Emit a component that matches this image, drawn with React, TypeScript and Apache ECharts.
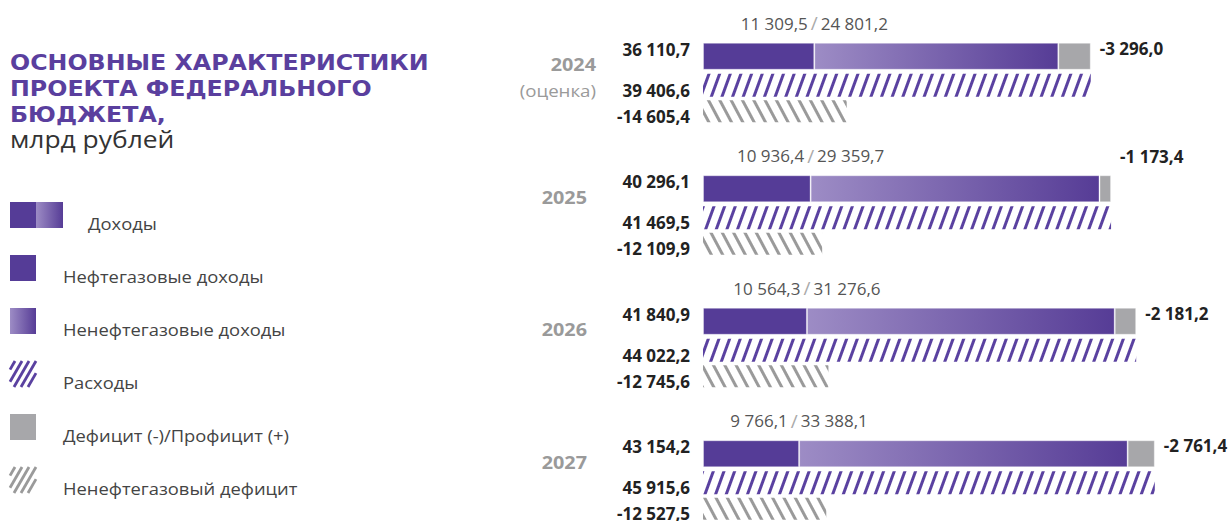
import React, { useEffect, useRef } from 'react';
import * as echarts from 'echarts';

const years = ['2024', '2025', '2026', '2027'];
const oilRevenue = [11309.5, 10936.4, 10564.3, 9766.1];
const nonOilRevenue = [24801.2, 29359.7, 31276.6, 33388.1];
const totalRevenue = [36110.7, 40296.1, 41840.9, 43154.2];
const expenditure = [39406.6, 41469.5, 44022.2, 45915.6];
const balance = [-3296.0, -1173.4, -2181.2, -2761.4];
const nonOilDeficit = [-14605.4, -12109.9, -12745.6, -12527.5];

const titleLines = ['ОСНОВНЫЕ ХАРАКТЕРИСТИКИ', 'ПРОЕКТА ФЕДЕРАЛЬНОГО', 'БЮДЖЕТА,'];
const subtitle = 'млрд рублей';
const estimateNote = '(оценка)';
const legendItems = [
  'Доходы',
  'Нефтегазовые доходы',
  'Ненефтегазовые доходы',
  'Расходы',
  'Дефицит (-)/Профицит (+)',
  'Ненефтегазовый дефицит',
];

const PURPLE = '#553c97';
const GRAD_LIGHT = '#9d8cc5';
const GRAY = '#a7a7aa';
const HATCH_PURPLE = '#5a41a0';
const HATCH_GRAY = '#9a9a9a';
const TITLE_COLOR = '#5a3f9e';
const FONT = '"Open Sans", sans-serif';

const fmt = (v: number) => {
  const s = Math.abs(v).toFixed(1);
  const [i, d] = s.split('.');
  return (v < 0 ? '-' : '') + i.replace(/\B(?=(\d{3})+(?!\d))/g, ' ') + ',' + d;
};

const GRID_LEFT = 703;
const FIRST_CENTER = 82.5;
const BAND = 132.5;

const grad = () =>
  new echarts.graphic.LinearGradient(0, 0, 1, 0, [
    { offset: 0, color: GRAD_LIGHT },
    { offset: 1, color: '#563c96' },
  ]);

// diagonal "/" stripes inside a square legend icon
function hatch(x0: number, y0: number, s: number, color: string) {
  const out: any[] = [];
  const k = 1 / Math.tan((60 * Math.PI) / 180);
  for (let c = 5; c < s + k * s; c += 7) {
    const v1 = Math.max(0, (c - s) / k);
    const v2 = Math.min(s, c / k);
    if (v2 - v1 < 3) continue;
    out.push({
      type: 'line',
      shape: { x1: x0 + c - k * v1, y1: y0 + v1, x2: x0 + c - k * v2, y2: y0 + v2 },
      style: { stroke: color, lineWidth: 2.8 },
    });
  }
  return out;
}

export default function App() {
  const ref = useRef<HTMLDivElement>(null);
  useEffect(() => {
    if (!ref.current) return;
    const chart = echarts.init(ref.current, undefined, { renderer: 'svg' });

    const numLabel = {
      show: true,
      color: '#222',
      fontWeight: 'bold' as const,
      fontSize: 17,
      fontFamily: FONT,
    };

    const graphic: any[] = [];
    // Title
    titleLines.forEach((t, i) => {
      graphic.push({
        type: 'text',
        x: 10,
        y: 63 + i * 25.7,
        scaleX: 1.13,
        style: {
          text: t,
          fill: TITLE_COLOR,
          fontSize: 21,
          fontWeight: 'bold',
          fontFamily: '"DejaVu Sans", sans-serif',
          align: 'left',
          verticalAlign: 'middle',
        },
      });
    });
    graphic.push({
      type: 'text',
      x: 10,
      y: 138,
      scaleX: 1.1,
      style: {
        text: subtitle,
        fill: '#333',
        fontSize: 24,
        fontFamily: FONT,
        align: 'left',
        verticalAlign: 'middle',
      },
    });

    // Legend
    const ICON = 26;
    legendItems.forEach((name, i) => {
      const top = 202 + i * 53;
      const x = 10;
      if (i === 0) {
        graphic.push({ type: 'rect', shape: { x, y: top, width: ICON, height: ICON }, style: { fill: PURPLE } });
        graphic.push({ type: 'rect', shape: { x: x + ICON, y: top, width: ICON + 1, height: ICON }, style: { fill: grad() } });
      } else if (i === 1) {
        graphic.push({ type: 'rect', shape: { x, y: top, width: ICON, height: ICON }, style: { fill: PURPLE } });
      } else if (i === 2) {
        graphic.push({ type: 'rect', shape: { x, y: top, width: ICON, height: ICON }, style: { fill: grad() } });
      } else if (i === 3) {
        graphic.push(...hatch(x, top, ICON, HATCH_PURPLE));
      } else if (i === 4) {
        graphic.push({ type: 'rect', shape: { x, y: top, width: ICON, height: ICON }, style: { fill: GRAY } });
      } else {
        graphic.push(...hatch(x, top, ICON, HATCH_GRAY));
      }
      graphic.push({
        type: 'text',
        x: i === 0 ? 88 : 63,
        y: top + ICON / 2 + 8,
        scaleX: 1.08,
        style: {
          text: name,
          fill: '#444',
          fontSize: 17,
          fontFamily: FONT,
          align: 'left',
          verticalAlign: 'middle',
        },
      });
    });

    // Year labels
    years.forEach((y, i) => {
      const c = FIRST_CENTER + BAND * i;
      const xr = i === 0 ? 596 : 587;
      graphic.push({
        type: 'text',
        x: xr,
        y: c - 18,
        scaleX: 1.1,
        style: {
          text: y,
          fill: '#9a9a9a',
          fontSize: 18,
          fontWeight: 'bold',
          fontFamily: FONT,
          align: 'right',
          verticalAlign: 'middle',
        },
      });
      if (i === 0) {
        graphic.push({
          type: 'text',
          x: xr,
          y: c + 7.5,
          scaleX: 1.1,
          style: {
            text: estimateNote,
            fill: '#9a9a9a',
            fontSize: 17,
            fontFamily: FONT,
            align: 'right',
            verticalAlign: 'middle',
          },
        });
      }
    });

    const edge = { borderColor: 'rgba(255,255,255,0.35)', borderWidth: 1 };

    const option: any = {
      animation: false,
      grid: { left: GRID_LEFT, top: FIRST_CENTER, width: 492, height: BAND * 3 },
      xAxis: { type: 'value', min: 0, max: 50000, show: false },
      yAxis: { type: 'category', data: years, inverse: true, boundaryGap: false, show: false },
      series: [
        {
          name: 'Нефтегазовые доходы',
          type: 'bar',
          stack: 'rev',
          barWidth: 27,
          barGap: '15%',
          clip: false,
          data: oilRevenue,
          itemStyle: { color: PURPLE, ...edge },
          label: {
            ...numLabel,
            position: 'left',
            distance: 13,
            offset: [0, -7],
            formatter: (p: any) => fmt(totalRevenue[p.dataIndex]),
          },
        },
        {
          name: 'Ненефтегазовые доходы',
          type: 'bar',
          stack: 'rev',
          barWidth: 27,
          barGap: '15%',
          clip: false,
          data: nonOilRevenue,
          itemStyle: { color: grad(), ...edge },
          label: {
            show: true,
            position: [0, -10],
            align: 'center',
            verticalAlign: 'bottom',
            formatter: (p: any) =>
              `{v|${fmt(oilRevenue[p.dataIndex])}}{s|/}{v|${fmt(nonOilRevenue[p.dataIndex])}}`,
            rich: {
              v: { color: '#555', fontSize: 17, fontFamily: FONT },
              s: { color: '#aaa', fontSize: 19, fontFamily: FONT, padding: [0, 3, 0, 3] },
            },
          },
        },
        {
          name: 'Дефицит (-)/Профицит (+)',
          type: 'bar',
          stack: 'rev',
          barWidth: 27,
          barGap: '15%',
          clip: false,
          data: balance.map((v, i) => ({
            value: Math.abs(v),
            label: i === 1 ? { offset: [0, -32] } : undefined,
          })),
          itemStyle: { color: GRAY, ...edge },
          label: {
            ...numLabel,
            position: 'right',
            distance: 9,
            offset: [0, -8],
            formatter: (p: any) => fmt(balance[p.dataIndex]),
          },
        },
        {
          name: 'Расходы',
          type: 'bar',
          stack: 'exp',
          barWidth: 23,
          barGap: '15%',
          clip: false,
          data: expenditure,
          itemStyle: {
            color: '#fff',
            decal: {
              symbol: 'rect',
              symbolSize: 1,
              color: HATCH_PURPLE,
              dashArrayX: [1, 0],
              dashArrayY: [2.6, 6.2],
              rotation: (-70 * Math.PI) / 180,
            },
          },
          label: {
            ...numLabel,
            position: 'left',
            distance: 13,
            offset: [0, 5],
            formatter: (p: any) => fmt(expenditure[p.dataIndex]),
          },
        },
        {
          name: 'Ненефтегазовый дефицит',
          type: 'bar',
          stack: 'nod',
          barWidth: 22,
          barGap: '15%',
          clip: false,
          data: nonOilDeficit.map((v) => Math.abs(v)),
          itemStyle: {
            color: '#fff',
            decal: {
              symbol: 'rect',
              symbolSize: 1,
              color: HATCH_GRAY,
              dashArrayX: [1, 0],
              dashArrayY: [2.6, 6.4],
              rotation: (62 * Math.PI) / 180,
            },
          },
          label: {
            ...numLabel,
            position: 'left',
            distance: 13,
            offset: [0, 5],
            formatter: (p: any) => fmt(nonOilDeficit[p.dataIndex]),
          },
        },
      ],
      graphic,
    };
    chart.setOption(option);
    return () => chart.dispose();
  }, []);

  return (
    <div
      ref={ref}
      style={{ position: 'fixed', left: 0, top: 0, width: 1232, height: 521, background: '#fff' }}
    />
  );
}
